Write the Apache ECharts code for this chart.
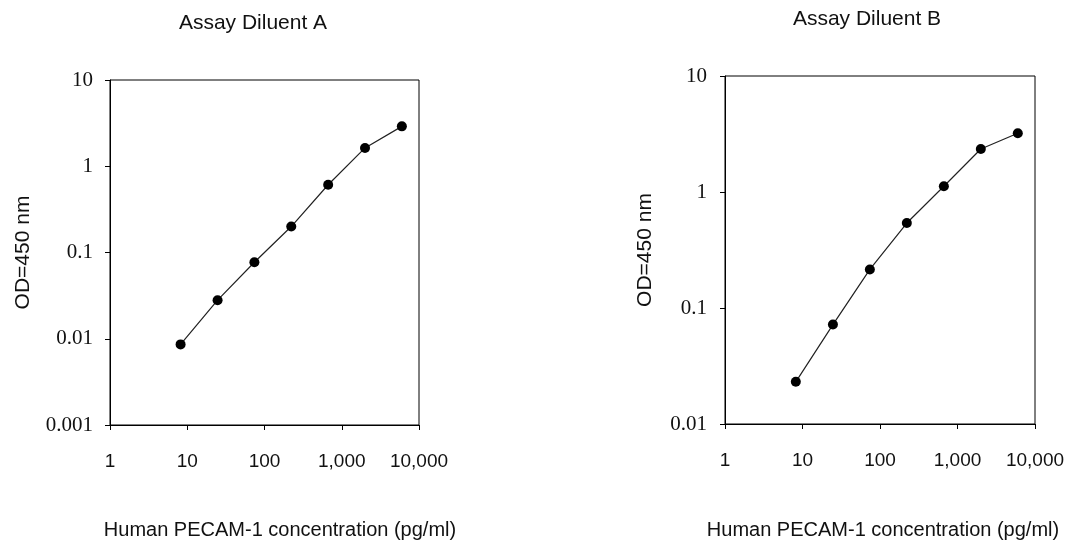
<!DOCTYPE html>
<html>
<head>
<meta charset="utf-8">
<script src="https://cdn.jsdelivr.net/npm/echarts@6/dist/echarts.min.js"></script>
<style>
html,body{margin:0;padding:0;background:#fff;}
#chart{width:1086px;height:548px;}
</style>
</head>
<body>
<div id="chart"></div>
<script>
// Data
const concentrations = [8.2, 24.7, 74, 222, 667, 2000, 6000];
const odDiluentA = [0.0086, 0.028, 0.077, 0.20, 0.61, 1.63, 2.90];
const odDiluentB = [0.0231, 0.072, 0.215, 0.54, 1.12, 2.35, 3.21];
const titleA = 'Assay Diluent A';
const titleB = 'Assay Diluent B';
const xAxisName = 'Human PECAM-1 concentration (pg/ml)';
const yAxisName = 'OD=450 nm';

const chart = echarts.init(document.getElementById('chart'));

const sans = 'Liberation Sans, Arial, sans-serif';
const serif = 'Liberation Serif, Times New Roman, serif';

function pairs(xs, ys){ return xs.map((x,i)=>[x, ys[i]]); }

function xAxisCfg(gridIndex){
  return {
    type:'log', logBase:10, min:1, max:10000, gridIndex,
    axisLine:{show:true, lineStyle:{color:'#000', width:1}},
    axisTick:{show:true, inside:false, length:5, lineStyle:{color:'#000'}},
    minorTick:{show:false},
    splitLine:{show:false},
    axisLabel:{color:'#111', fontFamily:sans, fontSize:19, margin:27,
      formatter: v => Math.round(v).toLocaleString('en-US')}
  };
}
function yAxisCfg(gridIndex, min, nameGap, margin){
  return {
    type:'log', logBase:10, min, max:10, gridIndex,
    name: yAxisName, nameLocation:'middle', nameGap, nameRotate:90,
    nameTextStyle:{color:'#111', fontFamily:sans, fontSize:21},
    axisLine:{show:true, lineStyle:{color:'#000', width:1}},
    axisTick:{show:true, inside:false, length:5, lineStyle:{color:'#000'}},
    minorTick:{show:false},
    splitLine:{show:false},
    axisLabel:{color:'#111', fontFamily:serif, fontSize:21, margin,
      formatter: v => String(Number(v.toPrecision(6)))}
  };
}
function seriesCfg(idx, data){
  return {
    type:'line', xAxisIndex:idx, yAxisIndex:idx, data,
    symbol:'circle', symbolSize:10, showSymbol:true,
    itemStyle:{color:'#000'},
    lineStyle:{color:'#222', width:1.2},
    animation:false
  };
}

chart.setOption({
  animation:false,
  grid:[
    {left:110, top:80, width:309, height:345, show:true, borderColor:'#000', borderWidth:1, backgroundColor:'transparent'},
    {left:725, top:76, width:310, height:348, show:true, borderColor:'#000', borderWidth:1, backgroundColor:'transparent'}
  ],
  xAxis:[xAxisCfg(0), xAxisCfg(1)],
  yAxis:[yAxisCfg(0, 0.001, 76, 17), yAxisCfg(1, 0.01, 69, 18)],
  series:[seriesCfg(0, pairs(concentrations, odDiluentA)), seriesCfg(1, pairs(concentrations, odDiluentB))],
  graphic:[
    {type:'text', x:253, y:23, style:{text:titleA, fill:'#111', font:'21px '+sans, textAlign:'center', textVerticalAlign:'middle'}},
    {type:'text', x:867, y:19, style:{text:titleB, fill:'#111', font:'21px '+sans, textAlign:'center', textVerticalAlign:'middle'}},
    {type:'text', x:280, y:530, style:{text:xAxisName, fill:'#111', font:'20px '+sans, textAlign:'center', textVerticalAlign:'middle'}},
    {type:'text', x:883, y:530, style:{text:xAxisName, fill:'#111', font:'20px '+sans, textAlign:'center', textVerticalAlign:'middle'}}
  ]
});
</script>
</body>
</html>
